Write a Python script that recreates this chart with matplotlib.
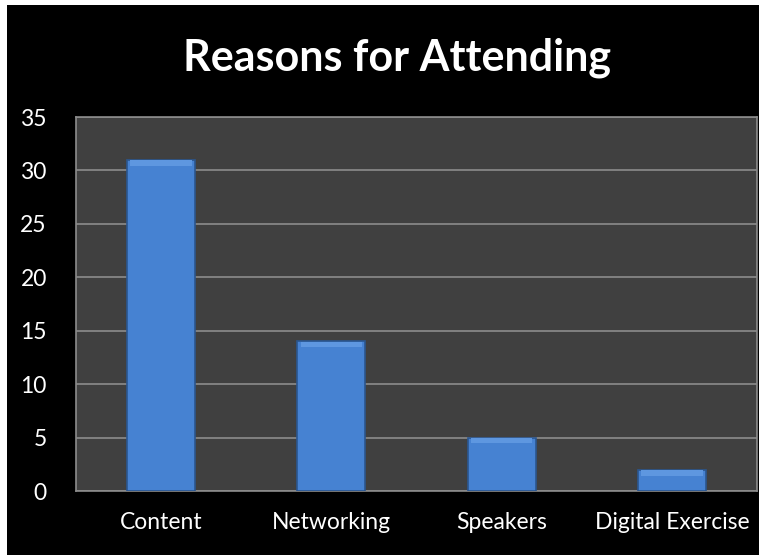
import matplotlib.pyplot as plt
from matplotlib.patches import Rectangle

categories = ["Content", "Networking", "Speakers", "Digital Exercise"]
values = [31, 14, 5, 2]
yticks = [0, 5, 10, 15, 20, 25, 30, 35]

plt.rcParams["font.family"] = ["Lato", "DejaVu Sans"]

fig = plt.figure(figsize=(7.59, 5.55), dpi=100, facecolor="white")
# black chart area with a thin white edge at left and top
fig.patches.append(Rectangle((7 / 759, 0), 1, 550 / 555, transform=fig.transFigure,
                             facecolor="black", edgecolor="none", zorder=-10))

ax = fig.add_axes([76 / 759, 64 / 555, 681 / 759, 374 / 555])
ax.set_facecolor("#404040")

x = range(len(categories))
ax.bar(x, values, width=0.4, color="#4682d2", edgecolor="#2b568f", linewidth=1.2, zorder=3)
# light bevel on top of each bar
ax.bar(x, [0.5] * len(values), bottom=[v - 0.55 for v in values], width=0.36,
       color="#5e97e0", edgecolor="none", zorder=4)

ax.set_xlim(-0.5, 3.5)
ax.set_ylim(0, 35)
ax.set_yticks(yticks)
ax.set_xticks(list(x))
ax.set_xticklabels(categories)
ax.yaxis.grid(True, color="#8c8c8c", linewidth=1.2, zorder=1)
ax.set_axisbelow(True)
ax.tick_params(axis="both", length=0, colors="white", labelsize=16.5)
ax.tick_params(axis="y", pad=21)
ax.tick_params(axis="x", pad=15)
for s in ax.spines.values():
    s.set_color("#8c8c8c")
    s.set_linewidth(1.2)

fig.text(397 / 759, 1 - 58 / 555, "Reasons for Attending", color="white",
         fontsize=31, fontweight="bold", ha="center", va="center")

fig.savefig("out.png", dpi=100, facecolor=fig.get_facecolor())
